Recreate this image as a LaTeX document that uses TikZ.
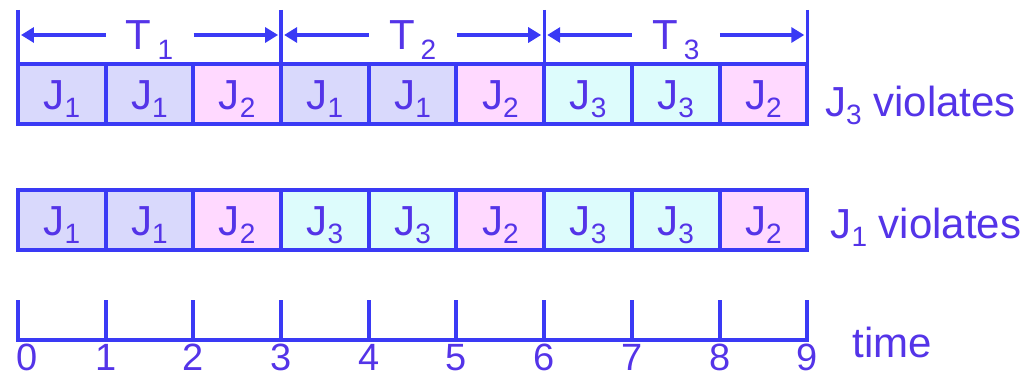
\documentclass[tikz,border=0pt]{standalone}
\usepackage{fontspec}
\setmainfont{Liberation Sans}
\usetikzlibrary{arrows.meta}

\definecolor{lineblue}{RGB}{58,58,245}
\definecolor{textblue}{RGB}{84,52,232}
\definecolor{job1}{RGB}{217,217,252}
\definecolor{job2}{RGB}{255,217,255}
\definecolor{job3}{RGB}{221,252,252}

\newcommand\jsub[1]{\raisebox{-4pt}{\fontsize{14}{16}\selectfont #1}}
\newcommand\tsub[1]{\kern3pt\raisebox{-5pt}{\fontsize{14}{16}\selectfont #1}}

\begin{document}
\begin{tikzpicture}[
	x=43.85pt, y=43.85pt,
	every node/.style={font=\fontsize{21}{25}\selectfont, text=textblue, inner sep=0pt},
	job/.style={draw=lineblue, line width=2pt, minimum width=43.85pt, minimum height=30pt,
		text height=15pt, text depth=0pt, outer sep=0pt},
	period/.style={text height=15pt, text depth=0pt, inner xsep=10pt},
	tick label/.style={font=\fontsize{19}{23}\selectfont},
	bracket/.style={draw=lineblue, line width=1.6pt},
	tarrow/.style={draw=lineblue, line width=1.6pt, shorten >=1.5pt,
		-{Triangle[length=6.5pt,width=7.5pt]}},
	axis/.style={draw=lineblue, line width=2pt, line join=miter}
	]
	
	\useasboundingbox (-0.205,-0.433) rectangle (11.505,3.877);
	
	% first schedule
	\foreach \j [count=\i] in {1,1,2,1,1,2,3,3,2}
	\node[job, fill=job\j] (a\i) at (\i-0.5,2.805) {J\jsub{\j}};
	
	% second schedule
	\foreach \j [count=\i] in {1,1,2,3,3,2,3,3,2}
	\node[job, fill=job\j] (b\i) at (\i-0.5,1.368) {J\jsub{\j}};
	
	% periods
	\foreach \s/\k in {0/1,3/2,6/3} {
		\draw[bracket] (\s,3.763) -- (\s,2.919);
		\coordinate (L\k) at (\s,3.478);
		\coordinate (R\k) at (\s+3,3.478);
		\node[period] (T\k) at (\s+1.5,3.478) {T\tsub{\k}};
		\draw[tarrow] (T\k) -- (L\k);
		\draw[tarrow] (T\k) -- (R\k);
	}
	\draw[bracket] (9,3.763) -- (9,3.147);
	
	\node[anchor=base west] (v3) at (9.20,2.543) {J\jsub{3} violates};
	\node[anchor=base west] (v1) at (9.26,1.163) {J\jsub{1} violates};
	
	% time axis
	\draw[axis] (0,0.456) -- (0,0) -- (9,0) -- (9,0.456);
	\foreach \t in {1,...,8}
	\draw[axis] (\t,0) -- (\t,0.456);
	\node[tick label, anchor=north west] (n0) at (-0.02,-0.04) {0};
	\foreach \t in {1,...,9}
	\node[tick label, anchor=north] (n\t) at (\t,-0.04) {\t};
	\node[anchor=base west] (tm) at (9.51,-0.194) {time};
	
\end{tikzpicture}
\end{document}
